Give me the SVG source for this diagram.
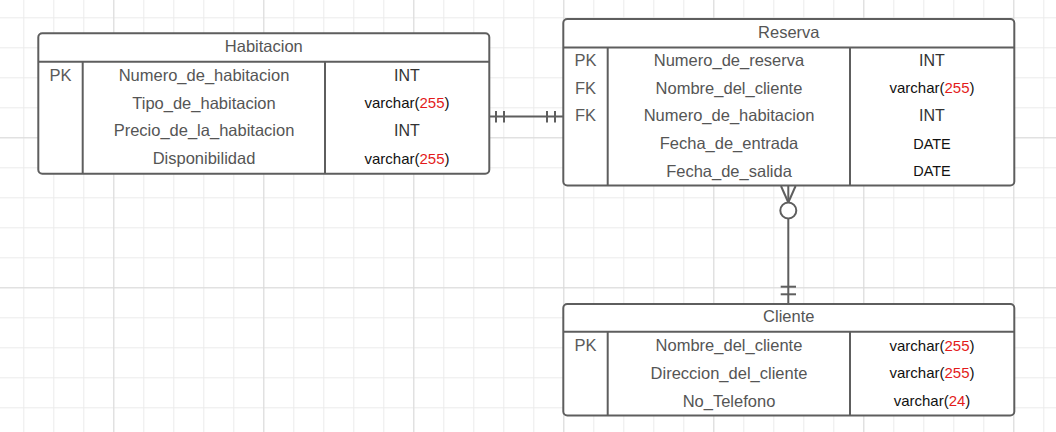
<svg xmlns="http://www.w3.org/2000/svg" width="1056" height="432" viewBox="0 0 1056 432">
  <defs>
    <pattern id="minor" patternUnits="userSpaceOnUse" x="23.3" y="17.3" width="30" height="30">
      <path d="M0.5 0 V30 M0 0.5 H30" fill="none" stroke="#ebebeb" stroke-width="1"/>
    </pattern>
    <pattern id="major" patternUnits="userSpaceOnUse" x="113.3" y="137.3" width="150" height="150">
      <path d="M0.5 0 V150 M0 0.5 H150" fill="none" stroke="#dadada" stroke-width="1"/>
    </pattern>
  </defs>
  <style>
    .box { fill: #ffffff; stroke: #5e5e5e; stroke-width: 2; }
    .sep { stroke: #5e5e5e; stroke-width: 2; fill: none; }
    .conn { stroke: #5e5e5e; stroke-width: 2; fill: none; }
    text { font-family: "Liberation Sans", Arial, sans-serif; text-anchor: middle; }
    .title { font-size: 16.5px; fill: #555555; }
    .key { font-size: 16.5px; fill: #5a5a5a; }
    .name { font-size: 16.5px; fill: #555555; }
    .int { font-size: 16px; fill: #333333; }
    .vc { font-size: 15px; fill: #111111; }
    .date { font-size: 14.5px; fill: #111111; }
    .red { fill: #e31b1b; }
  </style>
  <rect width="1056" height="432" fill="#ffffff"/>
  <rect width="1056" height="432" fill="url(#minor)"/>
  <rect width="1056" height="432" fill="url(#major)"/>

  <g id="connectors">
    <!-- Habitacion - Reserva: one and only one on both ends -->
    <line class="conn" x1="489" y1="116.5" x2="563" y2="116.5"/>
    <line class="conn" x1="496" y1="111" x2="496" y2="122.5"/>
    <line class="conn" x1="504" y1="111" x2="504" y2="122.5"/>
    <line class="conn" x1="547" y1="111" x2="547" y2="122.5"/>
    <line class="conn" x1="555" y1="111" x2="555" y2="122.5"/>
    <!-- Reserva - Cliente: zero or many / one and only one -->
    <line class="conn" x1="781" y1="186" x2="788.3" y2="202.5"/>
    <line class="conn" x1="795.6" y1="186" x2="788.3" y2="202.5"/>
    <line class="conn" x1="788.3" y1="186" x2="788.3" y2="202.5"/>
    <circle class="conn" cx="788.3" cy="210.5" r="8"/>
    <line class="conn" x1="788.3" y1="218.5" x2="788.3" y2="303"/>
    <line class="conn" x1="780.7" y1="286.7" x2="796" y2="286.7"/>
    <line class="conn" x1="780.7" y1="294.3" x2="796" y2="294.3"/>
  </g>

  <g id="habitacion">
    <rect class="box" x="38.3" y="33.3" width="451" height="140.4" rx="4"/>
    <line class="sep" x1="38.3" y1="61.7" x2="489.3" y2="61.7"/>
    <line class="sep" x1="82.7" y1="61.7" x2="82.7" y2="173.7"/>
    <line class="sep" x1="325" y1="61.7" x2="325" y2="173.7"/>
    <text class="title" x="263.8" y="52">Habitacion</text>
    <text class="key" x="60.5" y="81">PK</text>
    <text class="name" x="204" y="81">Numero_de_habitacion</text>
    <text class="int" x="407" y="81">INT</text>
    <text class="name" x="204" y="108.7">Tipo_de_habitacion</text>
    <text class="vc" x="407" y="108.2">varchar(<tspan class="red">255</tspan>)</text>
    <text class="name" x="204" y="136.3">Precio_de_la_habitacion</text>
    <text class="int" x="407" y="136.3">INT</text>
    <text class="name" x="204" y="164.3">Disponibilidad</text>
    <text class="vc" x="407" y="163.8">varchar(<tspan class="red">255</tspan>)</text>
  </g>

  <g id="reserva">
    <rect class="box" x="563.3" y="19" width="451" height="166.5" rx="4"/>
    <line class="sep" x1="563.3" y1="47.5" x2="1014.3" y2="47.5"/>
    <line class="sep" x1="607.7" y1="47.5" x2="607.7" y2="185.5"/>
    <line class="sep" x1="850" y1="47.5" x2="850" y2="185.5"/>
    <text class="title" x="788.8" y="37.5">Reserva</text>
    <text class="key" x="585.5" y="66">PK</text>
    <text class="name" x="729" y="66">Numero_de_reserva</text>
    <text class="int" x="932" y="66">INT</text>
    <text class="key" x="585.5" y="93.5">FK</text>
    <text class="name" x="729" y="93.5">Nombre_del_cliente</text>
    <text class="vc" x="932" y="93">varchar(<tspan class="red">255</tspan>)</text>
    <text class="key" x="585.5" y="121">FK</text>
    <text class="name" x="729" y="121">Numero_de_habitacion</text>
    <text class="int" x="932" y="121">INT</text>
    <text class="name" x="729" y="149">Fecha_de_entrada</text>
    <text class="date" x="932" y="148.5">DATE</text>
    <text class="name" x="729" y="176.5">Fecha_de_salida</text>
    <text class="date" x="932" y="176">DATE</text>
  </g>

  <g id="cliente">
    <rect class="box" x="563.3" y="304" width="451" height="111.5" rx="4"/>
    <line class="sep" x1="563.3" y1="331.7" x2="1014.3" y2="331.7"/>
    <line class="sep" x1="607.7" y1="331.7" x2="607.7" y2="415.5"/>
    <line class="sep" x1="850" y1="331.7" x2="850" y2="415.5"/>
    <text class="title" x="788.8" y="322">Cliente</text>
    <text class="key" x="585.5" y="351">PK</text>
    <text class="name" x="729" y="351">Nombre_del_cliente</text>
    <text class="vc" x="932" y="350.5">varchar(<tspan class="red">255</tspan>)</text>
    <text class="name" x="729" y="378.7">Direccion_del_cliente</text>
    <text class="vc" x="932" y="378.2">varchar(<tspan class="red">255</tspan>)</text>
    <text class="name" x="729" y="406.7">No_Telefono</text>
    <text class="vc" x="932" y="406.2">varchar(<tspan class="red">24</tspan>)</text>
  </g>
</svg>
